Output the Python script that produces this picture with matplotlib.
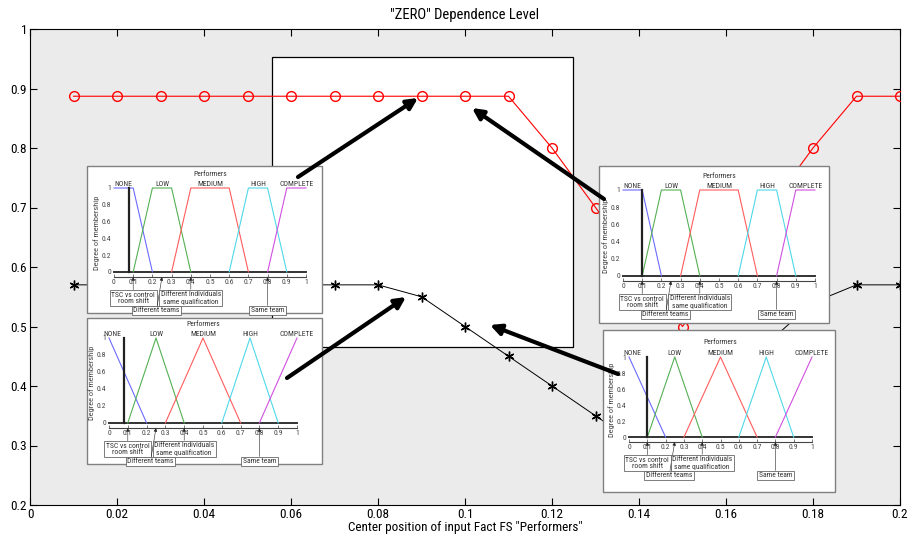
import matplotlib
matplotlib.use("Agg")
import matplotlib.pyplot as plt
from matplotlib.patches import Rectangle

plt.rcParams['font.family'] = ['Liberation Sans Narrow', 'Arial Narrow', 'Roboto Condensed',
                               'Archivo Narrow', 'PT Sans Narrow', 'DejaVu Sans']

W, H = 907, 536

# main curves: output level vs centre position of the "Performers" input set
x_center = [0.01, 0.02, 0.03, 0.04, 0.05, 0.06, 0.07, 0.08, 0.09, 0.10,
            0.11, 0.12, 0.13, 0.14, 0.15, 0.16, 0.17, 0.18, 0.19, 0.20]
red_level = [0.887, 0.887, 0.887, 0.887, 0.887, 0.887, 0.887, 0.887, 0.887, 0.887,
             0.887, 0.80, 0.70, 0.60, 0.50, 0.60, 0.70, 0.80, 0.887, 0.887]
black_level = [0.57, 0.57, 0.57, 0.57, 0.57, 0.57, 0.57, 0.57, 0.55, 0.50,
               0.45, 0.40, 0.35, 0.30, 0.25, 0.35, 0.475, 0.54, 0.57, 0.57]

x_ticks = [0, 0.02, 0.04, 0.06, 0.08, 0.10, 0.12, 0.14, 0.16, 0.18, 0.20]
x_ticklabels = ["0", "0.02", "0.04", "0.06", "0.08", "0.1", "0.12", "0.14", "0.16", "0.18", "0.2"]
y_ticks = [0.2, 0.3, 0.4, 0.5, 0.6, 0.7, 0.8, 0.9, 1.0]
y_ticklabels = ["0.2", "0.3", "0.4", "0.5", "0.6", "0.7", "0.8", "0.9", "1"]

# white frame behind the curves (data coords)
frame_x = [0.0556, 0.1248]
frame_y = [0.466, 0.953]

# membership functions shown in the insets
mf_names = ["NONE", "LOW", "MEDIUM", "HIGH", "COMPLETE"]
mf_colors = ["#6b6bff", "#55b055", "#ff5c5c", "#4fd8e8", "#d050e0"]
trap_x = [[0, 0.1, 0.2], [0.1, 0.2, 0.3, 0.4], [0.3, 0.4, 0.6, 0.7], [0.6, 0.7, 0.8, 0.9], [0.8, 0.9, 1.0]]
trap_y = [[1, 1, 0], [0, 1, 1, 0], [0, 1, 1, 0], [0, 1, 1, 0], [0, 1, 1]]
trap_label_x = [0.05, 0.25, 0.5, 0.75, 0.95]
tri_x = [[0, 0.2], [0.1, 0.25, 0.4], [0.3, 0.5, 0.7], [0.6, 0.75, 0.9], [0.8, 1.0]]
tri_y = [[1, 0], [0, 1, 0], [0, 1, 0], [0, 1, 0], [0, 1]]
tri_label_x = [0.02, 0.25, 0.5, 0.75, 1.0]

inset_shape = ["trap", "trap", "tri", "tri"]
inset_input = [0.08, 0.10, 0.08, 0.10]

mark_vals = [0.1, 0.25, 0.4, 0.8]
mark_text = ["TSC vs control\nroom shift", "Different teams",
             "Different Individuals\nsame qualification", "Same team"]
mark_offset = [(0, -15), (-4, -24), (0, -15), (0, -24)]

# inset layout in image pixels: (left, top, right, bottom)
inset_box = [(87, 166, 322, 313), (599, 166, 829, 323), (87, 318, 322, 464), (603, 330, 835, 492)]
inset_axes = [(114, 188, 306, 277), (623, 190, 815, 281), (109, 338, 297, 428), (629, 357, 812, 442)]

# arrows from inset to the point it explains (pixels): tail -> head
arrows = [((298, 177), (418, 98)), ((604, 199), (472, 108)),
          ((287, 378), (406, 297)), ((618, 374), (490, 325))]


def fig_rect(l, t, r, b):
    return [l / W, 1 - b / H, (r - l) / W, (b - t) / H]


fig = plt.figure(figsize=(W / 100, H / 100), dpi=100)
fig.patch.set_facecolor("white")

ax = fig.add_axes(fig_rect(30, 29, 900, 505))
ax.set_facecolor("#ebebeb")
ax.add_patch(Rectangle((frame_x[0], frame_y[0]), frame_x[1] - frame_x[0], frame_y[1] - frame_y[0],
                       facecolor="white", edgecolor="black", lw=0.9, zorder=1))
ax.plot(x_center, red_level, "-o", color="red", mfc="none", ms=7, lw=0.8, zorder=3)
ax.plot(x_center, black_level, "-", marker=(6, 2, 0), color="black", ms=7, lw=0.7, zorder=3)
ax.set_xlim(0, 0.2)
ax.set_ylim(0.2, 1)
ax.set_xticks(x_ticks, x_ticklabels)
ax.set_yticks(y_ticks, y_ticklabels)
ax.tick_params(direction="in", length=5, width=0.8, top=True, right=True, labelsize=9.5, pad=2)
for s in ax.spines.values():
    s.set_linewidth(0.8)
ax.set_title('"ZERO" Dependence Level', fontsize=10.5, pad=7)
ax.set_xlabel('Center position of input Fact FS "Performers"', fontsize=9.5, labelpad=0)

for i in range(4):
    fig.add_artist(Rectangle((inset_box[i][0] / W, 1 - inset_box[i][3] / H),
                             (inset_box[i][2] - inset_box[i][0]) / W,
                             (inset_box[i][3] - inset_box[i][1]) / H,
                             transform=fig.transFigure, facecolor="white",
                             edgecolor="#808080", lw=1.0, zorder=5))
    iax = fig.add_axes(fig_rect(*inset_axes[i]), zorder=6)
    iax.set_facecolor("none")
    if inset_shape[i] == "trap":
        xs, ys, lx = trap_x, trap_y, trap_label_x
    else:
        xs, ys, lx = tri_x, tri_y, tri_label_x
    iax.plot([0, 1], [0, 0], color="#333333", lw=1.4, clip_on=False)
    for k in range(5):
        iax.plot(xs[k], ys[k], color=mf_colors[k], lw=0.8, clip_on=False)
        iax.text(lx[k], 1.01, mf_names[k], ha="center", va="bottom", fontsize=5.5, color="#333333")
    iax.plot([inset_input[i], inset_input[i]], [0, 1], color="#222222", lw=1.6, clip_on=False)
    iax.set_xlim(0, 1)
    iax.set_ylim(-0.06, 1.0)
    for s in ["left", "top", "right"]:
        iax.spines[s].set_visible(False)
    iax.spines["bottom"].set_color("#444444")
    iax.spines["bottom"].set_linewidth(0.8)
    iax.set_xticks([0, 0.1, 0.2, 0.3, 0.4, 0.5, 0.6, 0.7, 0.8, 0.9, 1.0],
                   ["0", "0.1", "0.2", "0.3", "0.4", "0.5", "0.6", "0.7", "0.8", "0.9", "1"])
    iax.set_yticks([0, 0.2, 0.4, 0.6, 0.8, 1.0], ["0", "0.2", "0.4", "0.6", "0.8", "1"])
    iax.tick_params(axis="x", direction="in", length=2, width=0.5, labelsize=5.5, pad=1.5, colors="#444444")
    iax.tick_params(axis="y", length=0, labelsize=5.5, pad=2, colors="#444444")
    iax.set_ylabel("Degree of membership", fontsize=6, labelpad=1, color="#444444")
    iax.set_title("Performers", fontsize=5.5, pad=9, color="#333333")
    for v, t, off in zip(mark_vals, mark_text, mark_offset):
        iax.annotate(t, xy=(v, -0.06), xytext=off, textcoords="offset points",
                     ha="center", va="center", fontsize=5.5, color="#333333", linespacing=1.1,
                     bbox=dict(boxstyle="square,pad=0.2", fc="white", ec="#666666", lw=0.6),
                     arrowprops=dict(arrowstyle="-|>", color="#222222", lw=0.4,
                                     mutation_scale=5, shrinkA=0, shrinkB=0),
                     annotation_clip=False)

ov = fig.add_axes([0, 0, 1, 1], zorder=20)
ov.set_xlim(0, W)
ov.set_ylim(H, 0)
ov.axis("off")
ov.patch.set_alpha(0)
for tail, head in arrows:
    ov.annotate("", xy=head, xytext=tail,
                arrowprops=dict(arrowstyle="-|>", color="black", lw=3, mutation_scale=16,
                                shrinkA=0, shrinkB=0))

fig.savefig("out.png", dpi=100)
